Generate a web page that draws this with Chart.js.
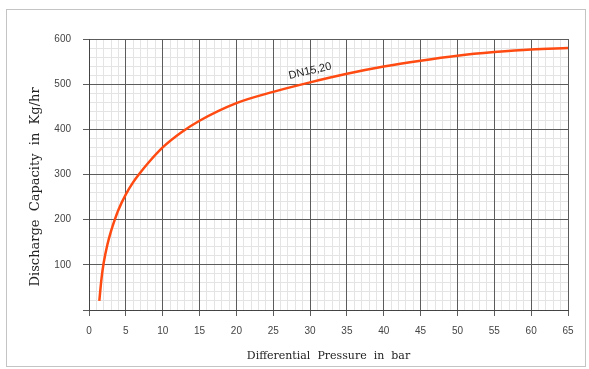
<!DOCTYPE html>
<html>
<head>
<meta charset="utf-8">
<script src="https://cdn.jsdelivr.net/npm/chart.js@4"></script>
<style>
  body { margin: 0; background: #fff; }
  #wrap { position: relative; width: 589px; height: 369px; }
</style>
</head>
<body>
<div id="wrap"><canvas id="capacityChart"></canvas></div>
<script>
// curve (differential pressure in bar -> capacity in kg/hr)
const pressureBar = [1.4, 1.7, 2.0, 2.5, 3, 3.5, 4, 5, 6, 7, 8, 10, 12.5, 15, 20, 25, 30, 35, 40, 45, 50, 55, 60, 65];
const capacityKgHr = [20, 70, 105, 145, 175, 200, 222, 256, 283, 305, 325, 360, 393, 419, 458, 483, 504, 523, 539, 552, 563, 571, 577, 580];

const xTickLabels = [0, 5, 10, 15, 20, 25, 30, 35, 40, 45, 50, 55, 60, 65];
const yTickLabels = [100, 200, 300, 400, 500, 600];
const curveLabel = 'DN15,20';
const curveLabelAt = [30, 529];

const majorGrid = '#5c5c5c';
const minorGrid = '#e4e4e4';
const tickFont = { family: '"Liberation Sans", Arial, sans-serif', size: 10 };
const titleFont = '"DejaVu Serif", serif';

// light frame round the whole picture
const framePlugin = {
    id: 'frame',
    beforeDraw(chart) {
        const ctx = chart.ctx;
        ctx.save();
        ctx.strokeStyle = '#c4c4c4';
        ctx.lineWidth = 1;
        ctx.strokeRect(6.5, 9.5, 579, 357);
        ctx.restore();
    }
};

// the DN15,20 tag sitting on the curve
const curveTagPlugin = {
    id: 'curveTag',
    afterDatasetsDraw(chart) {
        const ctx = chart.ctx;
        const x = chart.scales.x.getPixelForValue(curveLabelAt[0]);
        const y = chart.scales.y.getPixelForValue(curveLabelAt[1]);
        ctx.save();
        ctx.translate(x, y);
        ctx.rotate(-13 * Math.PI / 180);
        ctx.font = '11px "Liberation Sans", Arial, sans-serif';
        ctx.fillStyle = '#222';
        ctx.textAlign = 'center';
        ctx.textBaseline = 'middle';
        ctx.fillText(curveLabel, 0, 0);
        ctx.restore();
    }
};

// scale that only paints the fine grid, underneath the main one
function minorScale(pos, step, max) {
    return {
        type: 'linear',
        position: pos,
        min: 0,
        max: max,
        afterFit: s => { if (pos === 'bottom') s.height = 0; else s.width = 0; },
        ticks: { display: false, stepSize: step, autoSkip: false },
        grid: { color: minorGrid, drawTicks: false, z: -2 },
        border: { display: false }
    };
}

new Chart(document.getElementById('capacityChart'), {
    type: 'line',
    data: {
        datasets: [{
            data: pressureBar.map((p, i) => ({ x: p, y: capacityKgHr[i] })),
            borderColor: '#ff4a12',
            borderWidth: 2.5,
            pointRadius: 0,
            cubicInterpolationMode: 'monotone',
            fill: false
        }]
    },
    options: {
        responsive: true,
        maintainAspectRatio: false,
        animation: false,
        layout: { padding: { top: 39, right: 21, left: 0, bottom: 0 } },
        plugins: {
            legend: { display: false },
            tooltip: { enabled: false }
        },
        scales: {
            xMinor: minorScale('bottom', 1, 65),
            yMinor: minorScale('left', 20, 600),
            x: {
                type: 'linear',
                min: 0,
                max: 65,
                afterFit: s => { s.height = 59; },
                ticks: {
                    stepSize: 5,
                    autoSkip: false,
                    maxRotation: 0,
                    padding: 9,
                    color: '#444',
                    font: tickFont,
                    callback: v => xTickLabels.includes(v) ? String(v) : ''
                },
                grid: { color: majorGrid, tickColor: majorGrid, tickLength: 6, z: -1 },
                border: { color: '#444', width: 1 },
                title: {
                    display: true,
                    text: 'Differential  Pressure  in  bar',
                    color: '#222',
                    font: { family: titleFont, size: 11 },
                    padding: { top: 0, bottom: 6 }
                }
            },
            y: {
                min: 0,
                max: 600,
                afterFit: s => { s.width = 89; },
                ticks: {
                    stepSize: 100,
                    autoSkip: false,
                    padding: 12,
                    color: '#444',
                    font: tickFont,
                    callback: v => yTickLabels.includes(v) ? String(v) : ''
                },
                grid: { color: majorGrid, tickColor: majorGrid, tickLength: 6, z: -1 },
                border: { color: '#444', width: 1 },
                title: {
                    display: true,
                    text: 'Discharge  Capacity  in  Kg/hr      ',
                    color: '#222',
                    font: { family: titleFont, size: 13 },
                    padding: { top: 28, bottom: 0 }
                }
            }
        }
    },
    plugins: [framePlugin, curveTagPlugin]
});
</script>
</body>
</html>
